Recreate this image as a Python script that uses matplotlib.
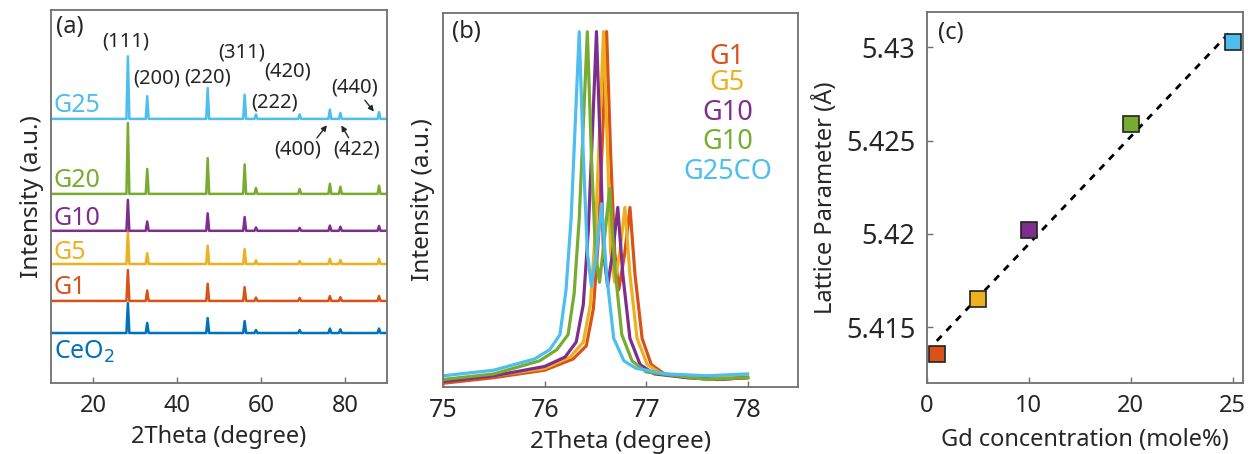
import numpy as np
import matplotlib.pyplot as plt

plt.rcParams['font.family'] = ['Noto Sans', 'DejaVu Sans']

C_RED = '#D95319'
C_YEL = '#EDB120'
C_PUR = '#7E2F8E'
C_GRN = '#77AC30'
C_CYA = '#4DBEEE'
C_BLU = '#0072BD'
TXT = '#262626'
SPINE = '#707070'

# ---- panel (a): XRD patterns ----
peak_pos = [28.3, 32.9, 47.3, 56.1, 58.8, 69.2, 76.4, 78.9, 88.1]
samples_a = ['CeO$_2$', 'G1', 'G5', 'G10', 'G20', 'G25']
colors_a = [C_BLU, C_RED, C_YEL, C_PUR, C_GRN, C_CYA]
baselines_a = [0.134, 0.220, 0.319, 0.408, 0.507, 0.708]
heights_a = [
    [0.080, 0.027, 0.040, 0.032, 0.008, 0.008, 0.012, 0.010, 0.012],
    [0.083, 0.028, 0.046, 0.037, 0.009, 0.008, 0.013, 0.010, 0.013],
    [0.088, 0.029, 0.049, 0.040, 0.010, 0.008, 0.014, 0.011, 0.014],
    [0.083, 0.025, 0.047, 0.037, 0.009, 0.008, 0.014, 0.011, 0.013],
    [0.190, 0.067, 0.096, 0.079, 0.016, 0.013, 0.027, 0.019, 0.022],
    [0.168, 0.061, 0.083, 0.065, 0.012, 0.012, 0.025, 0.016, 0.018],
]
label_y_a = [0.083, 0.255, 0.351, 0.442, 0.544, 0.743]

hkl_text = ['(111)', '(200)', '(220)', '(311)', '(420)', '(222)', '(440)', '(400)', '(422)']
hkl_x = [27.8, 35.2, 47.3, 55.4, 66.3, 63.2, 82.2, 68.7, 82.7]
hkl_y = [0.916, 0.815, 0.820, 0.885, 0.836, 0.753, 0.791, 0.627, 0.627]
arrows = [((84.3, 0.764), (87.3, 0.722)),
          ((72.9, 0.651), (76.1, 0.697)),
          ((81.2, 0.651), (78.8, 0.697))]

# ---- panel (b): zoomed peak near 76.5 deg ----
names_b = ['G1', 'G5', 'G10', 'G10', 'G25CO']
colors_b = [C_RED, C_YEL, C_PUR, C_GRN, C_CYA]
x_g1 = [75.0, 75.5, 76.0, 76.28, 76.41, 76.48, 76.53, 76.57, 76.61, 76.65, 76.69,
        76.73, 76.79, 76.84, 76.89, 76.96, 77.05, 77.18, 77.4, 77.7, 78.0]
y_g1 = [0.01, 0.025, 0.045, 0.075, 0.11, 0.21, 0.40, 0.67, 0.95, 0.62, 0.36,
        0.26, 0.36, 0.48, 0.30, 0.13, 0.06, 0.035, 0.025, 0.02, 0.025]
x_g5 = [75.0, 75.5, 76.0, 76.25, 76.38, 76.45, 76.50, 76.54, 76.58, 76.62, 76.65,
        76.69, 76.74, 76.79, 76.84, 76.91, 77.01, 77.15, 77.4, 77.7, 78.0]
y_g5 = [0.02, 0.03, 0.05, 0.08, 0.12, 0.22, 0.42, 0.68, 0.95, 0.62, 0.36,
        0.28, 0.36, 0.48, 0.30, 0.13, 0.06, 0.035, 0.03, 0.025, 0.03]
x_g10 = [75.0, 75.5, 76.0, 76.2, 76.31, 76.38, 76.43, 76.47, 76.51, 76.55, 76.58,
         76.62, 76.67, 76.72, 76.77, 76.84, 76.94, 77.08, 77.4, 77.7, 78.0]
y_g10 = [0.015, 0.03, 0.055, 0.08, 0.12, 0.22, 0.42, 0.68, 0.95, 0.62, 0.36,
         0.27, 0.36, 0.48, 0.30, 0.13, 0.06, 0.035, 0.025, 0.02, 0.025]
x_g20 = [75.0, 75.5, 75.95, 76.12, 76.23, 76.29, 76.34, 76.38, 76.42, 76.46, 76.50,
         76.54, 76.59, 76.64, 76.69, 76.76, 76.86, 77.0, 77.3, 77.6, 78.0]
y_g20 = [0.02, 0.035, 0.07, 0.10, 0.14, 0.25, 0.45, 0.70, 0.95, 0.62, 0.36,
         0.28, 0.40, 0.53, 0.32, 0.14, 0.07, 0.04, 0.03, 0.02, 0.025]
x_g25 = [75.0, 75.5, 75.9, 76.05, 76.15, 76.21, 76.26, 76.30, 76.34, 76.38, 76.42,
         76.46, 76.51, 76.56, 76.61, 76.68, 76.78, 76.9, 77.2, 77.6, 78.0]
y_g25 = [0.03, 0.045, 0.075, 0.10, 0.14, 0.26, 0.45, 0.70, 0.95, 0.62, 0.36,
         0.27, 0.36, 0.49, 0.30, 0.13, 0.07, 0.05, 0.035, 0.03, 0.035]
curves_b = [(x_g1, y_g1), (x_g5, y_g5), (x_g10, y_g10), (x_g20, y_g20), (x_g25, y_g25)]

# ---- panel (c): lattice parameter ----
gd_conc = [1, 5, 10, 20, 25]
lattice = [5.41355, 5.4165, 5.4202, 5.4259, 5.4303]
colors_c = [C_RED, C_YEL, C_PUR, C_GRN, C_CYA]
fit_x = [1, 25]
fit_y = [5.41426, 5.43097]


def style_axes(ax):
    for s in ax.spines.values():
        s.set_color(SPINE)
        s.set_linewidth(1.3)
    ax.tick_params(direction='in', length=4, width=1, color=SPINE,
                   labelcolor=TXT, labelsize=17, pad=8)


fig = plt.figure(figsize=(12.48, 4.54), dpi=100)

# (a)
ax1 = fig.add_axes([0.0409, 0.1564, 0.2692, 0.8216])
for name, col, base, hs, ly in zip(samples_a, colors_a, baselines_a, heights_a, label_y_a):
    xs = [10.0]
    ys = [base]
    for p, h in zip(peak_pos, hs):
        xs += [p - 0.35, p, p + 0.35]
        ys += [base, base + h, base]
    xs.append(90.0)
    ys.append(base)
    ax1.plot(xs, ys, color=col, lw=1.8)
    ax1.text(10.7, ly, name, color=col, fontsize=18, va='center', ha='left')
for t, x, y in zip(hkl_text, hkl_x, hkl_y):
    ax1.text(x, y, t, fontsize=14.5, color=TXT, ha='center', va='center')
for st, en in arrows:
    ax1.annotate('', xy=en, xytext=st,
                 arrowprops=dict(arrowstyle='-|>', color=TXT, lw=1, mutation_scale=8))
ax1.set_xlim(10, 90)
ax1.set_ylim(0, 1)
ax1.set_xticks([20, 40, 60, 80])
ax1.set_yticks([])
style_axes(ax1)
ax1.set_xlabel('2Theta (degree)', fontsize=17, color=TXT, labelpad=5)
ax1.set_ylabel('Intensity (a.u.)', fontsize=17.5, color=TXT, labelpad=5)
ax1.text(0.015, 0.955, '(a)', transform=ax1.transAxes, fontsize=17, color=TXT,
         ha='left', va='center')

# (b)
ax2 = fig.add_axes([0.3552, 0.1476, 0.2845, 0.8238])
for (xs, ys), col in zip(curves_b, colors_b):
    ax2.plot(xs, ys, color=col, lw=2.3)
ly = [0.882, 0.813, 0.733, 0.655, 0.575]
for name, col, y in zip(names_b, colors_b, ly):
    ax2.text(0.80, y, name, color=col, fontsize=19.5, ha='center', va='center',
             transform=ax2.transAxes)
ax2.set_xlim(75, 78.5)
ax2.set_ylim(0, 1)
ax2.set_xticks([75, 76, 77, 78])
ax2.set_yticks([])
style_axes(ax2)
ax2.tick_params(labelsize=18)
ax2.set_xlabel('2Theta (degree)', fontsize=17.5, color=TXT, labelpad=5)
ax2.set_ylabel('Intensity (a.u.)', fontsize=17.5, color=TXT, labelpad=6)
ax2.text(0.025, 0.95, '(b)', transform=ax2.transAxes, fontsize=17, color=TXT,
         ha='left', va='center')

# (c) x axis stretched above 20 as in the original figure
def fwd(x):
    x = np.asarray(x, dtype=float)
    return np.where(x <= 20, x, 20 + 2 * (x - 20))


def inv(x):
    x = np.asarray(x, dtype=float)
    return np.where(x <= 20, x, 20 + (x - 20) / 2)


ax3 = fig.add_axes([0.7425, 0.1564, 0.2532, 0.8172])
ax3.set_xscale('function', functions=(fwd, inv))
ax3.plot(fit_x, fit_y, ls=(0, (2.5, 2.5)), color='black', lw=2, zorder=2)
for x, y, col in zip(gd_conc, lattice, colors_c):
    ax3.plot(x, y, marker='s', ms=11, mfc=col, mec='#222222', mew=1.2, zorder=3)
ax3.set_xlim(0, 25.49)
ax3.set_ylim(5.4120, 5.4319)
ax3.set_xticks([0, 10, 20, 25])
ax3.set_xticklabels(['0', '10', '20', '25'])
ax3.set_yticks([5.415, 5.42, 5.425, 5.43])
ax3.set_yticklabels(['5.415', '5.42', '5.425', '5.43'])
ax3.minorticks_off()
style_axes(ax3)
ax3.tick_params(axis='y', labelsize=19.5)
ax3.set_xlabel('Gd concentration (mole%)', fontsize=17, color=TXT, labelpad=7)
ax3.set_ylabel('Lattice Parameter (Å)', fontsize=17, color=TXT, labelpad=6)
ax3.text(0.035, 0.943, '(c)', transform=ax3.transAxes, fontsize=17, color=TXT,
         ha='left', va='center')

fig.savefig('out.png', dpi=100)
